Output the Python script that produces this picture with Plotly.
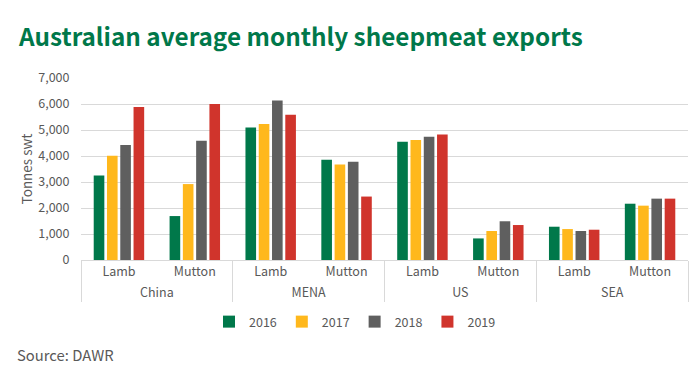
import plotly.graph_objects as go

regions = ["China", "China", "MENA", "MENA", "US", "US", "SEA", "SEA"]
products = ["Lamb", "Mutton", "Lamb", "Mutton", "Lamb", "Mutton", "Lamb", "Mutton"]

years = ["2016", "2017", "2018", "2019"]
v2016 = [3250, 1690, 5100, 3860, 4550, 830, 1280, 2165]
v2017 = [4010, 2920, 5230, 3670, 4615, 1115, 1190, 2090]
v2018 = [4420, 4590, 6130, 3780, 4740, 1490, 1115, 2360]
v2019 = [5885, 6000, 5590, 2440, 4830, 1345, 1165, 2360]
series = [v2016, v2017, v2018, v2019]
colors = ["#00784A", "#FFB81C", "#5F5F5F", "#D0342C"]

font_family = "Noto Sans CJK SC"
txt = "#595959"

# page body has an 8px default margin; work in window pixels and offset
OFF = 8
W, H = 700 - OFF, 373 - OFF
L, T = 81 - OFF, 78 - OFF
R, B = 700 - 688, 373 - 260
pw, ph = W - L - R, H - T - B


def px(x):
    return (x - OFF - L) / pw


def py(y):
    return (T + ph - (y - OFF)) / ph


fig = go.Figure()
for name, vals, col in zip(years, series, colors):
    fig.add_trace(go.Bar(
        x=[regions, products], y=vals, name=name,
        marker=dict(color=col, line=dict(width=0)),
    ))

fig.update_layout(
    width=W, height=H,
    margin=dict(l=L, r=R, t=T, b=B, autoexpand=False),
    paper_bgcolor="white", plot_bgcolor="white",
    barmode="group", bargap=0.3, bargroupgap=0.2,
    font=dict(family=font_family, color=txt, size=12),
    showlegend=True,
    legend=dict(orientation="h", x=px(355), xanchor="center",
                y=py(322), yanchor="middle",
                font=dict(size=12.5, color=txt), traceorder="normal",
                itemwidth=30),
    xaxis=dict(
        type="multicategory",
        showline=True, linecolor="#D9D9D9", linewidth=1,
        showdividers=True, dividercolor="#D9D9D9", dividerwidth=1,
        tickfont=dict(size=12.5, color=txt),
        ticks="outside", ticklen=5, tickcolor="rgba(0,0,0,0)",
        automargin=False,
    ),
    yaxis=dict(
        range=[0, 7000], dtick=1000, tickformat=",",
        showgrid=True, gridcolor="#D9D9D9", gridwidth=1,
        zeroline=False, showline=False,
        tickfont=dict(size=12.5, color=txt),
        ticks="outside", ticklen=8, tickcolor="rgba(0,0,0,0)",
        title=dict(text="Tonnes swt", font=dict(size=13.5, color=txt), standoff=2),
        automargin=False,
    ),
)

fig.add_annotation(
    text="<b>Australian average monthly sheepmeat exports</b>",
    xref="paper", yref="paper", x=px(16), y=py(36),
    xanchor="left", yanchor="middle", showarrow=False,
    font=dict(size=24.3, color="#00784A", family=font_family),
)
fig.add_annotation(
    text="Source: DAWR",
    xref="paper", yref="paper", x=px(15), y=py(354),
    xanchor="left", yanchor="middle", showarrow=False,
    font=dict(size=14.8, color=txt, family=font_family),
)

fig.write_html("out.html")
